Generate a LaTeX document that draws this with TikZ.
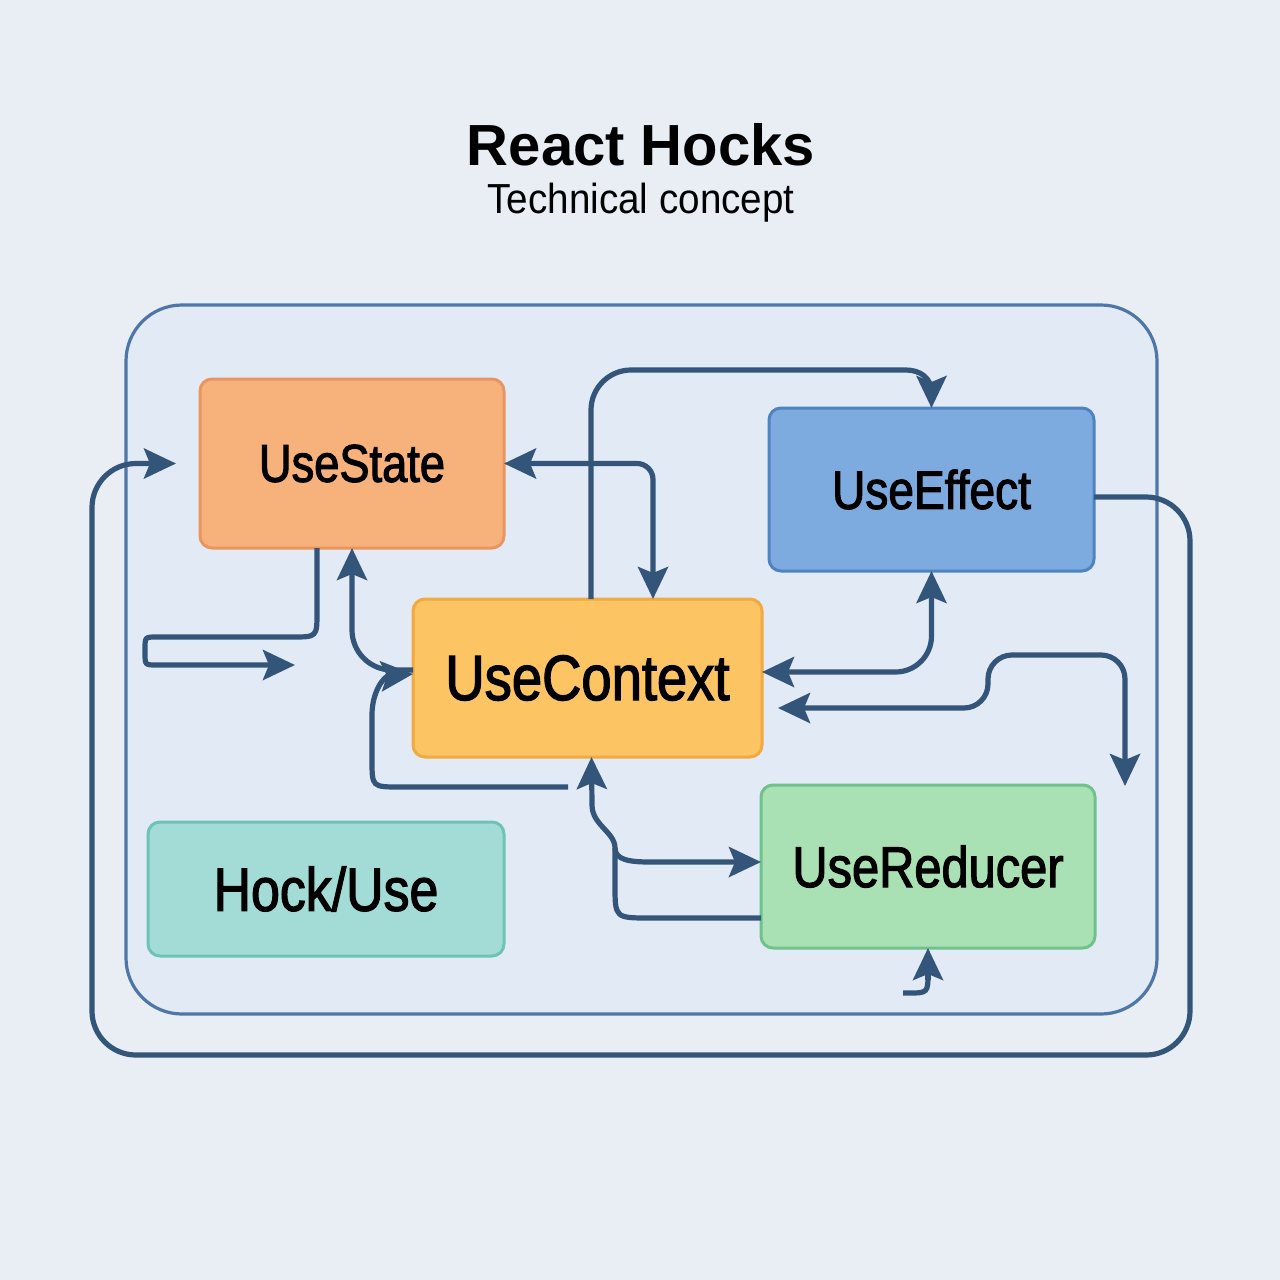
\documentclass[tikz,border=0pt]{standalone}
\usepackage{fontspec}
\usetikzlibrary{arrows.meta}
\newfontfamily\lblfont[FakeStretch=0.85,FakeBold=2]{Liberation Sans}
\newfontfamily\titlefont{Liberation Sans}
\newfontfamily\subfont[FakeStretch=0.92]{Liberation Sans}
\definecolor{bgc}{HTML}{E8EEF4}
\definecolor{contfill}{HTML}{E1EAF5}
\definecolor{contline}{HTML}{4E77A8}
\definecolor{navy}{HTML}{34557A}
\definecolor{stfill}{HTML}{F7B27C}\definecolor{stline}{HTML}{EA9560}
\definecolor{effill}{HTML}{7DABDF}\definecolor{efline}{HTML}{4F82C0}
\definecolor{cxfill}{HTML}{FCC462}\definecolor{cxline}{HTML}{F2A940}
\definecolor{hkfill}{HTML}{A3DCD6}\definecolor{hkline}{HTML}{6DC3B6}
\definecolor{rdfill}{HTML}{A9E1B5}\definecolor{rdline}{HTML}{6FC28B}
\tikzset{
  hookbox/.style={rectangle, rounded corners=6pt, line width=1.5pt, inner sep=0pt, outer sep=0pt, text=black},
  conn/.style={draw=navy, line width=2.6pt},
  tipa/.tip={Stealth[length=16pt,width=15pt,inset=3pt]},
}
\begin{document}
\begin{tikzpicture}[x=0.5pt,y=-0.5pt]
\fill[bgc] (0,0) rectangle (1280,1280);
\useasboundingbox (0,0) rectangle (1280,1280);
% title
\node[anchor=base, font=\titlefont\bfseries\fontsize{29}{34}\selectfont] (title) at (641,165) {React Hocks};
\node[anchor=base, font=\subfont\fontsize{21}{25}\selectfont] (sub) at (641,213) {Technical concept};
% container
\draw[contline, fill=contfill, line width=1.6pt, rounded corners=28pt] (126,305) rectangle (1157,1014);
% nodes
\node[hookbox, fill=stfill, draw=stline, minimum width=152pt, minimum height=84.5pt, font=\lblfont\fontsize{26.6}{30}\selectfont] (us) at (352,463.5) {UseState};
\node[hookbox, fill=effill, draw=efline, minimum width=162.5pt, minimum height=81.5pt, font=\lblfont\fontsize{27.1}{30}\selectfont] (ue) at (931.5,489.5) {UseEffect};
\node[hookbox, fill=cxfill, draw=cxline, minimum width=174.5pt, minimum height=79pt, font=\lblfont\fontsize{32}{36}\selectfont] (uc) at (587.5,678) {UseContext};
\node[hookbox, fill=hkfill, draw=hkline, minimum width=178pt, minimum height=67pt, font=\lblfont\fontsize{30.5}{34}\selectfont] (hk) at (326,889) {Hock/Use};
\node[hookbox, fill=rdfill, draw=rdline, minimum width=167pt, minimum height=81.5pt, font=\lblfont\fontsize{28.7}{32}\selectfont] (ur) at (928,866.5) {UseReducer};
% free-end coordinates
\coordinate (e6) at (295,665);
\coordinate (e5) at (1125,786);
\coordinate (s8) at (568,787);
\coordinate (br) at (615,848);
\coordinate (s11) at (903,993);
% outer loop: UseEffect -> UseState
\draw[conn, -{tipa}, rounded corners=22pt] ([yshift=-3.75pt]ue.east) -- (1190,497) -- (1190,1055) -- (92,1055) -- (92,463.5) -- ([xshift=-12pt]us.west);
% UseState <-> UseContext
\draw[conn, {tipa}-{tipa}, rounded corners=8pt] (us.east) -- (653,463.5) -- ([xshift=32.75pt]uc.north);
% UseContext -> UseEffect (top)
\draw[conn] ([xshift=1.75pt]uc.north) -- (591,410) .. controls (591,388) and (609,370) .. (631,370) -- (906,370) .. controls (920,370) and (931.5,378) .. (931.5,392);
\draw[conn, -{tipa}] (931.5,384) -- (ue.north);
% UseContext <-> UseEffect (bottom)
\draw[conn, {tipa}-{tipa}, rounded corners=18pt] ([yshift=3pt]uc.east) -- (931.5,672) -- (ue.south);
% UseContext <-> down arrow near UseReducer
\draw[conn, {tipa}-{tipa}, rounded corners=12pt] ([xshift=8pt,yshift=-15pt]uc.east) -- (988,708) -- (988,655) -- (1125,655) -- (e5);
% UseState bottom -> free arrow
\draw[conn, -{tipa}] ([xshift=-17.5pt]us.south) -- (317,612) .. controls (317,637) .. (292,637) -- (157,637) .. controls (145,637) .. (145,649) -- (145,653) .. controls (145,665) .. (157,665) -- (e6);
% UseContext -> UseState bottom
\draw[conn, -{tipa}, rounded corners=20pt] ([yshift=4pt]uc.west) -- (352,670) -- (us.south);
% free -> UseContext left
\draw[conn, -{tipa}] (s8) -- (400,787) .. controls (372,787) .. (372,760) -- (372,715) .. controls (372,690) and (385,676) .. ([yshift=2pt]uc.west);
% UseReducer -> UseContext bottom
\draw[conn, -{tipa}] ([yshift=-25.75pt]ur.west) -- (650,918) .. controls (615,918) .. (615,885) -- (br) .. controls (615,832) and (592,825) .. (592,805) -- ([xshift=2pt]uc.south);
% branch -> UseReducer
\draw[conn, -{tipa}] (br) .. controls (615,860) and (630,862) .. (650,862) -- ([yshift=2.25pt]ur.west);
% small arrow below UseReducer
\draw[conn] (s11) -- (908,993) .. controls (928,993) .. (928,972);
\draw[conn, -{tipa}] (928,980) -- (ur.south);
\end{tikzpicture}
\end{document}
